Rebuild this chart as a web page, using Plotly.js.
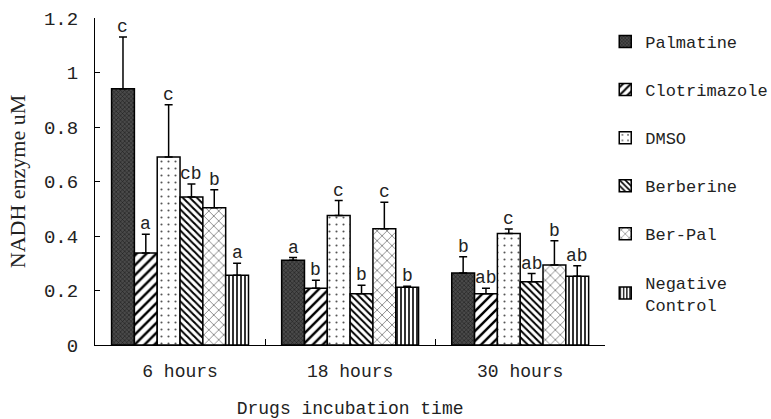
<!DOCTYPE html>
<html>
<head>
<meta charset="utf-8">
<script src="https://cdn.plot.ly/plotly-3.0.1.min.js"></script>
<style>html,body{margin:0;padding:0;background:#fff}#chart{width:771px;height:419px}</style>
</head>
<body>
<div id="chart"></div>
<script>
const categories = ["6 hours", "18 hours", "30 hours"];
const seriesNames = ["Palmatine", "Clotrimazole", "DMSO", "Berberine", "Ber-Pal", "Negative<br>Control"];

const palmatine    = [0.940, 0.311, 0.264];
const clotrimazole = [0.338, 0.208, 0.188];
const dmso         = [0.690, 0.475, 0.409];
const berberine    = [0.543, 0.188, 0.232];
const berPal       = [0.504, 0.427, 0.294];
const negControl   = [0.256, 0.212, 0.252];

const errPalmatine    = [0.190, 0.010, 0.060];
const errClotrimazole = [0.068, 0.030, 0.020];
const errDmso         = [0.192, 0.055, 0.017];
const errBerberine    = [0.048, 0.031, 0.030];
const errBerPal       = [0.066, 0.097, 0.089];
const errNegControl   = [0.044, 0.004, 0.039];

const lettersPalmatine    = ["c", "a", "b"];
const lettersClotrimazole = ["a", "b", "ab"];
const lettersDmso         = ["c", "c", "c"];
const lettersBerberine    = ["cb", "b", "ab"];
const lettersBerPal       = ["b", "c", "b"];
const lettersNegControl   = ["a", "b", "ab"];

const values = [palmatine, clotrimazole, dmso, berberine, berPal, negControl];
const errors = [errPalmatine, errClotrimazole, errDmso, errBerberine, errBerPal, errNegControl];
const letters = [lettersPalmatine, lettersClotrimazole, lettersDmso, lettersBerberine, lettersBerPal, lettersNegControl];

const patterns = [
  {shape: "x", bgcolor: "#4a4a4a", fgcolor: "#151515", size: 3, solidity: 0.3},
  {shape: "/", bgcolor: "#fff", fgcolor: "#000", size: 7, solidity: 0.35},
  {shape: ".", bgcolor: "#fff", fgcolor: "#555", size: 7, solidity: 0.07},
  {shape: "\\", bgcolor: "#fff", fgcolor: "#000", size: 5, solidity: 0.4},
  {shape: "x", bgcolor: "#fff", fgcolor: "#333", size: 7, solidity: 0.15},
  {shape: "|", bgcolor: "#fff", fgcolor: "#000", size: 4, solidity: 0.4}
];

const font = "'Liberation Mono', 'Courier New', monospace";
const bargap = 0.195;

const traces = values.map((v, i) => ({
  type: "bar",
  name: seriesNames[i],
  x: categories,
  y: v,
  legendgroup: "g" + i,
  marker: {color: patterns[i].bgcolor, line: {color: "#000", width: 1.5}, pattern: patterns[i]},
  error_y: {type: "data", symmetric: false, array: errors[i], arrayminus: v.map(() => 0), color: "#000", thickness: 1.5, width: 4}
}));

const annotations = [];
const nS = values.length;
const w = (1 - bargap) / nS;
values.forEach((v, i) => {
  v.forEach((val, c) => {
    annotations.push({
      xref: "x", yref: "y",
      x: c + (i - (nS - 1) / 2) * w,
      y: val + errors[i][c],
      text: letters[i][c],
      showarrow: false,
      yanchor: "bottom",
      yshift: -2,
      font: {family: font, size: 18, color: "#222"}
    });
  });
});

const layout = {
  width: 771, height: 419,
  margin: {l: 95, r: 154, t: 18, b: 74},
  paper_bgcolor: "#fff", plot_bgcolor: "#fff",
  barmode: "group", bargap: bargap, bargroupgap: 0,
  showlegend: true,
  legend: {
    xref: "container", yref: "container",
    x: 0.785, y: 0.943, xanchor: "left", yanchor: "top",
    font: {family: font, size: 17, color: "#222"},
    traceorder: "grouped", tracegroupgap: 23,
    itemwidth: 30,
    maxheight: 400
  },
  xaxis: {
    type: "category",
    showline: true, linecolor: "#000", linewidth: 1,
    ticks: "inside", tickson: "boundaries", ticklen: 6, tickcolor: "#000",
    tickfont: {family: font, size: 18, color: "#222"},
    ticklabelstandoff: 9,
    title: {text: "Drugs incubation time", font: {family: font, size: 18, color: "#222"}, standoff: 21},
    showgrid: false, zeroline: false
  },
  yaxis: {
    range: [0, 1.2], dtick: 0.2,
    showline: true, linecolor: "#000", linewidth: 1,
    ticks: "inside", ticklen: 5, tickcolor: "#000",
    tickfont: {family: font, size: 19, color: "#222"},
    ticklabelstandoff: 12,
    title: {text: "NADH enzyme uM", font: {family: "'Liberation Serif', serif", size: 22, color: "#222"}, standoff: 12},
    showgrid: false, zeroline: false
  },
  annotations: annotations
};

Plotly.newPlot("chart", traces, layout, {displayModeBar: false, staticPlot: true});
</script>
</body>
</html>
